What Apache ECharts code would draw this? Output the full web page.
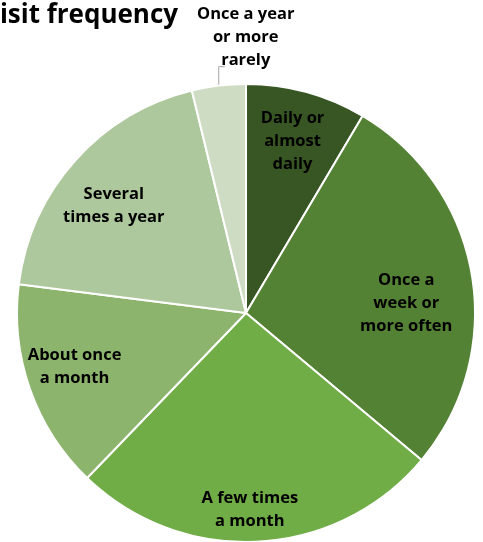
<!DOCTYPE html>
<html>
<head>
<meta charset="utf-8">
<script src="https://cdn.jsdelivr.net/npm/echarts@6/dist/echarts.min.js"></script>
<style>
    html, body { margin: 0; padding: 0; background: #fff; }
</style>
</head>
<body>
<div id="main" style="width: 483px;height:542px;"></div>
<script>
    var categories = ['Daily or almost daily', 'Once a week or more often', 'A few times a month',
        'About once a month', 'Several times a year', 'Once a year or more rarely'];
    // wrapped the way the labels appear on the chart
    var labelText = ['Daily or\nalmost\ndaily', 'Once a\nweek or\nmore often', 'A few times\na month',
        'About once\na month', 'Several\ntimes a year', 'Once a year\nor more\nrarely'];
    var values = [8.5, 27.6, 26.1, 14.8, 19.2, 3.8];
    var colors = ['#375623', '#548235', '#70ad47', '#8db46d', '#aec89d', '#cedcc4'];

    var R = 229;
    var center = [246, 313];
    // small nudges for the inside labels
    var nudge = [[-2, 6], [-21, 21], [-6, 13], [2, -7], [5, 15], [0, 0]];

    var pieData = [];
    var ghostData = [];
    for (var i = 0; i < values.length; i++) {
        pieData.push({
            name: categories[i],
            value: values[i],
            itemStyle: { color: colors[i] },
            label: { show: i === 5 },
            labelLine: { show: i === 5 }
        });
        ghostData.push({
            name: categories[i],
            value: values[i],
            label: { show: i !== 5 }
        });
    }

    var labelFont = {
        fontFamily: 'Open Sans',
        fontWeight: 'bold',
        fontSize: 16.5,
        lineHeight: 23,
        color: '#000',
        align: 'center'
    };

    var myChart = echarts.init(document.getElementById('main'));
    var option = {
        animation: false,
        title: {
            text: 'Visit frequency',
            left: -22,
            top: -2,
            textStyle: {
                fontFamily: 'Open Sans',
                fontWeight: 'bold',
                fontSize: 26,
                color: '#000'
            }
        },
        series: [{
            type: 'pie',
            center: center,
            radius: [0, R],
            startAngle: 90,
            clockwise: true,
            silent: true,
            itemStyle: { borderColor: '#fff', borderWidth: 2 },
            label: Object.assign({
                position: 'outside',
                formatter: function (p) { return labelText[p.dataIndex]; }
            }, labelFont),
            labelLine: { lineStyle: { color: '#a6a6a6', width: 1 } },
            labelLayout: function (p) {
                if (p.dataIndex !== 5 || !p.labelLinePoints) return {};
                var s = p.labelLinePoints[0];
                return {
                    x: s[0] + 27,
                    y: s[1] - 48,
                    align: 'center',
                    verticalAlign: 'middle',
                    labelLinePoints: [[s[0], s[1]], [s[0], s[1] - 19], [s[0] + 6, s[1] - 19]]
                };
            },
            data: pieData
        }, {
            // invisible twin so the inside labels sit further out
            type: 'pie',
            center: center,
            radius: [0, R * 1.58],
            startAngle: 90,
            clockwise: true,
            silent: true,
            itemStyle: { color: 'rgba(0,0,0,0)' },
            label: Object.assign({
                position: 'inside',
                formatter: function (p) { return labelText[p.dataIndex]; }
            }, labelFont),
            labelLayout: function (p) {
                var n = nudge[p.dataIndex];
                return { dx: n[0], dy: n[1] };
            },
            labelLine: { show: false },
            data: ghostData
        }]
    };
    myChart.setOption(option);
</script>
</body>
</html>
